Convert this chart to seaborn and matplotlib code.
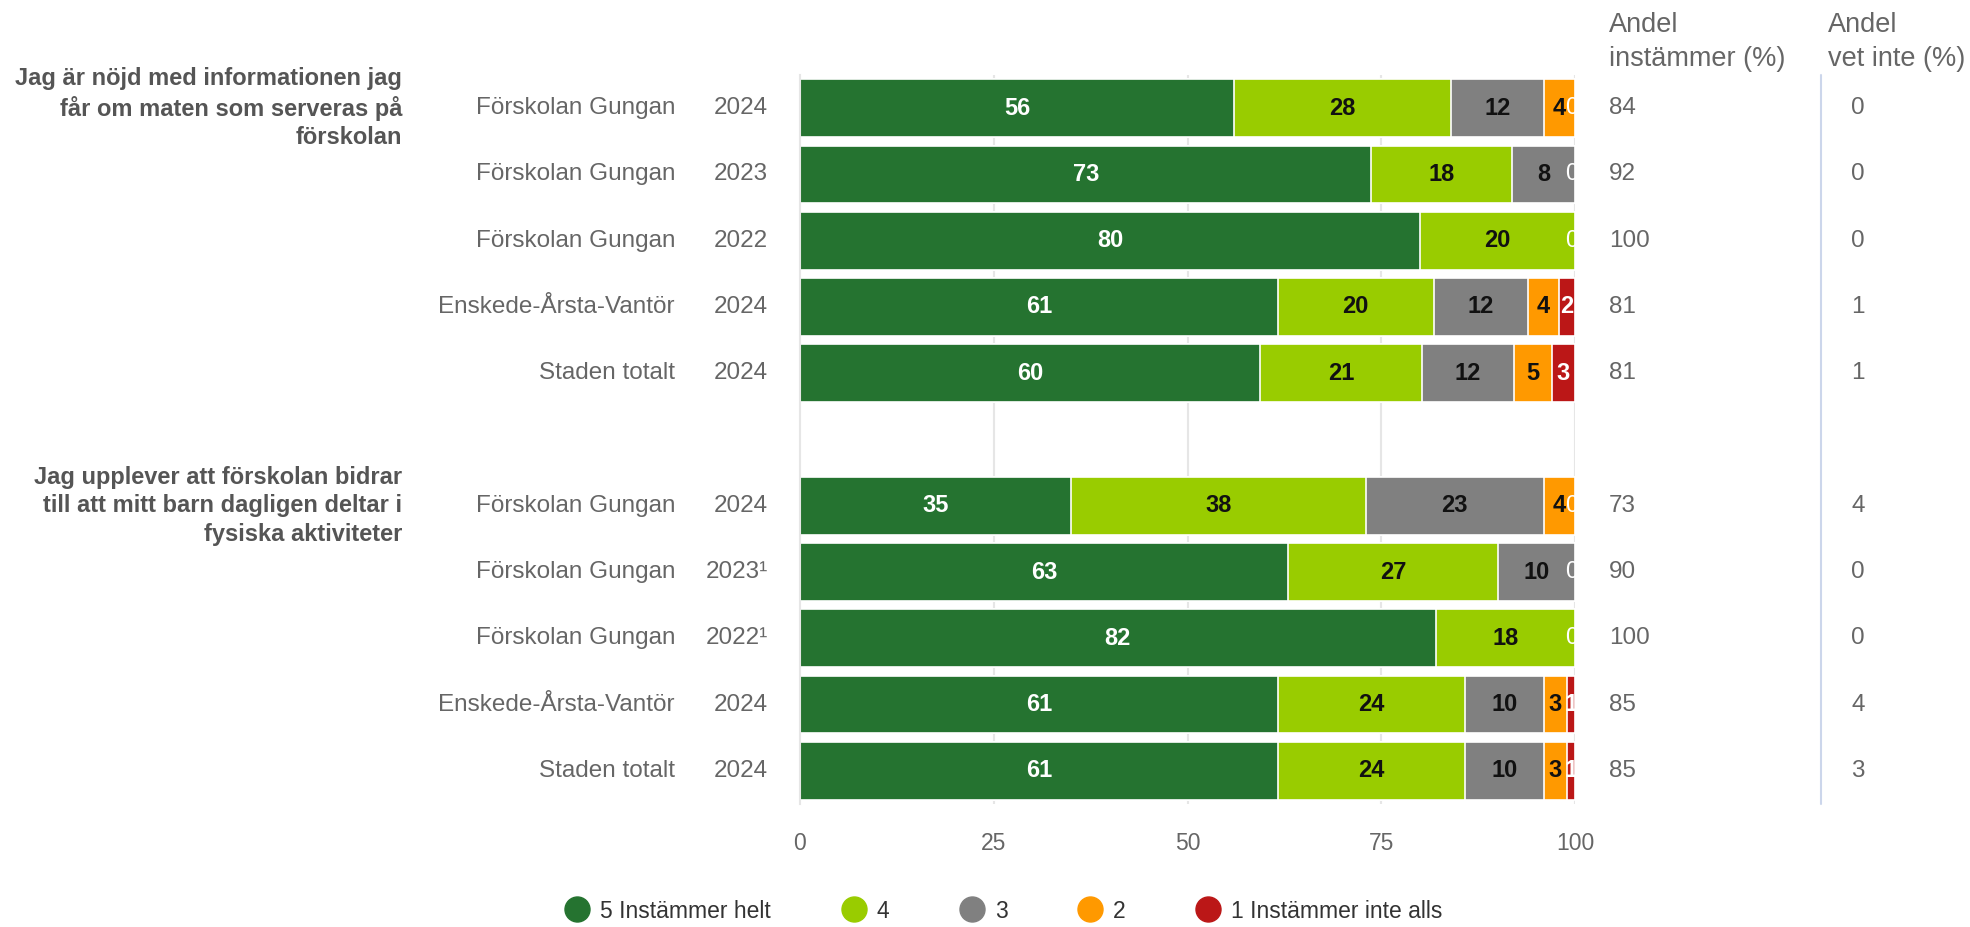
import numpy as np
import pandas as pd
import matplotlib
matplotlib.use("Agg")
import matplotlib.pyplot as plt
import matplotlib.transforms as mtransforms
from matplotlib.lines import Line2D
import seaborn as sns

# Data
questions = [
    "Jag är nöjd med informationen jag\nfår om maten som serveras på\nförskolan",
    "Jag upplever att förskolan bidrar\ntill att mitt barn dagligen deltar i\nfysiska aktiviteter",
]
units = ["Förskolan Gungan", "Förskolan Gungan", "Förskolan Gungan", "Enskede-Årsta-Vantör", "Staden totalt"]
years_q1 = ["2024", "2023", "2022", "2024", "2024"]
years_q2 = ["2024", "2023¹", "2022¹", "2024", "2024"]

levels = ["5 Instämmer helt", "4", "3", "2", "1 Instämmer inte alls"]
colors = ["#257330", "#99cc00", "#808080", "#ff9900", "#bb1717"]
label_colors = ["white", "#111111", "#111111", "#111111", "white"]

q1_values = [
    [56, 28, 12, 4, 0],
    [73, 18, 8, 0, 0],
    [80, 20, 0, 0, 0],
    [61, 20, 12, 4, 2],
    [60, 21, 12, 5, 3],
]
q2_values = [
    [35, 38, 23, 4, 0],
    [63, 27, 10, 0, 0],
    [82, 18, 0, 0, 0],
    [61, 24, 10, 3, 1],
    [61, 24, 10, 3, 1],
]
agree_q1 = [84, 92, 100, 81, 81]
agree_q2 = [73, 90, 100, 85, 85]
dontknow_q1 = [0, 0, 0, 1, 1]
dontknow_q2 = [4, 0, 0, 4, 3]

# Build long table with cumulative (normalised) stacks
rows = []
order = []
for qi, vals in enumerate([q1_values, q2_values]):
    for ri, v in enumerate(vals):
        key = f"q{qi}-{ri}"
        order.append(key)
        tot = sum(v)
        cum = 0.0
        for li, val in enumerate(v):
            start = cum
            cum += val / tot * 100
            rows.append(dict(row=key, level=levels[li], li=li, value=val, start=start, cum=cum))
    if qi == 0:
        order.append("gap")
df = pd.DataFrame(rows)

sns.set_style("white")
plt.rcParams["font.family"] = ["Liberation Sans", "DejaVu Sans"]

fig = plt.figure(figsize=(19.7, 9.27), dpi=100)
ax = fig.add_axes([800 / 1970, (927 - 804) / 927, 775 / 1970, (804 - 75) / 927])

# grid behind bars
for gx in [25, 50, 75, 100]:
    ax.axvline(gx, color="#e6e6e6", lw=1.5, zorder=0)

# stacked bars: draw cumulative totals from the longest down
for li in reversed(range(len(levels))):
    sub = df[df["li"] == li]
    sns.barplot(data=sub, x="cum", y="row", order=order, orient="h", color=colors[li],
                width=0.87, edgecolor="white", linewidth=1.2, errorbar=None, ax=ax,
                saturation=1, zorder=2)

# segment labels
ypos = {k: i for i, k in enumerate(order)}
for _, r in df.iterrows():
    y = ypos[r["row"]]
    if r["value"] > 0:
        ax.text((r["start"] + r["cum"]) / 2, y, str(r["value"]), ha="center", va="center",
                fontsize=17, fontweight="bold", color=label_colors[r["li"]], zorder=5)
    elif r["li"] == len(levels) - 1:
        ax.text(99.6, y, "0", ha="center", va="center", fontsize=17,
                color="white", zorder=5, clip_on=True)

ax.set_xlim(0, 100)
ax.set_ylim(len(order) - 0.5, -0.5)
ax.set_xticks([0, 25, 50, 75, 100])
ax.set_xticklabels(["0", "25", "50", "75", "100"], fontsize=16.5, color="#666666")
ax.tick_params(axis="x", length=0, pad=20)
ax.set_yticks(np.arange(-0.5, len(order), 1))
ax.set_yticklabels([])
ax.tick_params(axis="y", length=14, width=1.2, color="#ccd6eb")
ax.set_xlabel("")
ax.set_ylabel("")
for s in ["top", "right", "bottom"]:
    ax.spines[s].set_visible(False)
ax.spines["left"].set_color("#e6e6e6")
ax.spines["left"].set_linewidth(1.5)

# left labels and right columns
tr = mtransforms.blended_transform_factory(fig.transFigure, ax.transData)
row_units = units + units
row_years = years_q1 + years_q2
agree = agree_q1 + agree_q2
dontknow = dontknow_q1 + dontknow_q2
keys = [k for k in order if k != "gap"]
for i, k in enumerate(keys):
    y = ypos[k]
    fig.text(675 / 1970, 0, row_units[i], transform=tr, ha="right", va="center",
             fontsize=17.5, color="#666666").set_y(y)
    fig.text(768 / 1970, 0, row_years[i], transform=tr, ha="right", va="center",
             fontsize=17.5, color="#666666").set_y(y)
    fig.text(1609 / 1970, 0, str(agree[i]), transform=tr, ha="left", va="center",
             fontsize=17.5, color="#666666").set_y(y)
    fig.text(1858 / 1970, 0, str(dontknow[i]), transform=tr, ha="center", va="center",
             fontsize=17.5, color="#666666").set_y(y)

for qi, q in enumerate(questions):
    y = ypos[f"q{qi}-0"]
    t = fig.text(402 / 1970, 0, q, transform=tr, ha="right", va="center", fontsize=17,
                 fontweight="bold", color="#555555", linespacing=1.3)
    t.set_y(y)

fig.add_artist(Line2D([1821 / 1970, 1821 / 1970], [-0.5, len(order) - 0.5], transform=tr,
                      color="#ccd6eb", lw=1.5))

fig.text(1609 / 1970, (927 - 25) / 927, "Andel", ha="left", va="center", fontsize=19.5, color="#666666")
fig.text(1609 / 1970, (927 - 59) / 927, "instämmer (%)", ha="left", va="center", fontsize=19.5, color="#666666")
fig.text(1828 / 1970, (927 - 25) / 927, "Andel", ha="left", va="center", fontsize=19.5, color="#666666")
fig.text(1828 / 1970, (927 - 59) / 927, "vet inte (%)", ha="left", va="center", fontsize=19.5, color="#666666")

# legend
handles = [Line2D([], [], marker="o", linestyle="", markersize=18, markerfacecolor=c,
                  markeredgecolor=c) for c in colors]
fig.legend(handles, levels, loc="center", bbox_to_anchor=(0.5097, (927 - 911) / 927), ncol=5,
           frameon=False, fontsize=16.5, handletextpad=0.5, columnspacing=3.1,
           labelcolor="#333333", handlelength=1.0)

fig.savefig("out.png", dpi=100)
